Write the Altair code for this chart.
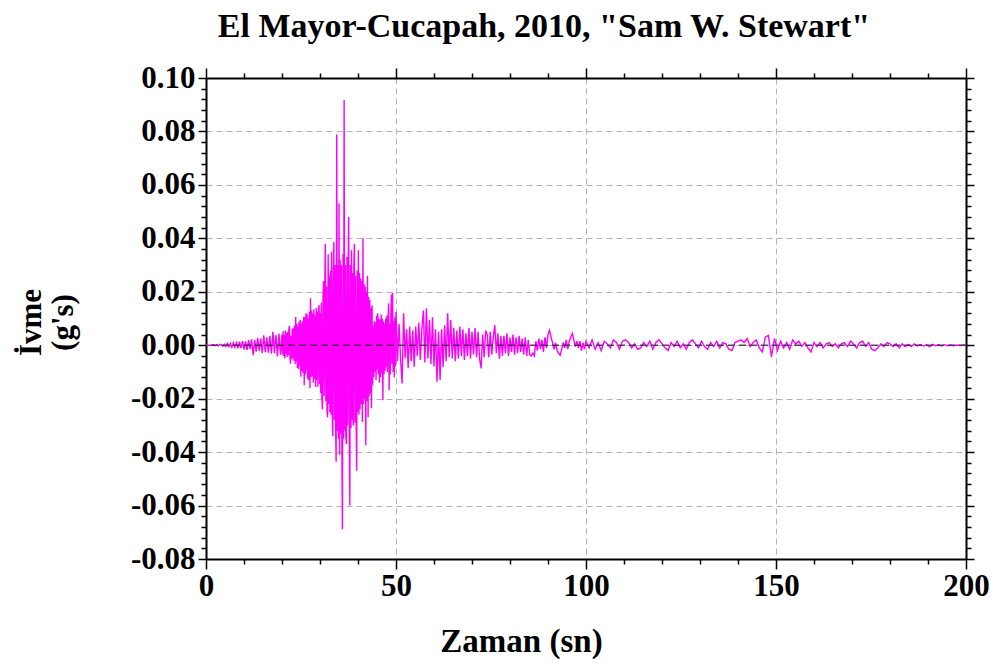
import altair as alt
import pandas as pd

# ---- data (acceleration in units of 0.001 g) ----
SEG_START = [0.0, 20.0, 50.0, 100.0]   # s
SEG_STEP = [0.4, 0.15, 0.4, 0.8]       # s (sampling of each segment)

ACC_A = [
    0.0, 0.1, -0.1, 0.1, -0.1, 0.2, -0.2, 0.2, -0.2, 0.3,
    0.3, -0.4, 0.4, -0.5, 0.6, -0.5, 0.7, -0.8, 0.9, -0.8,
    1.0, -1.2, 1.3, -1.1, 1.5, -1.6, 1.4, -1.8, 1.9, -1.5,
    2.2, -3.7, 2.0, -2.4, 2.8, -2.1, 2.5, -3.0, 3.7, -2.6,
    3.0, -2.8, 3.5, -3.2, 5.0, -3.0, 3.8, -4.2, 4.4, -3.5,
]
ACC_B = [
    4.0, -3.5, 5.2, -4.0, 3.8, -5.0, 5.5, -3.2, 4.6, -4.4, 5.0, -3.8, 6.0, 7.2, -4.5, -6.9, 3.5, -5.2, 6.1, -4.8,
    6.5, -5.8, 7.4, -7.0, 10.6, -6.0, 8.0, -8.5, 7.0, -9.0, 8.8, -7.5, 9.5, -11.8, 8.2, -9.6, 9.0, -10.5, 10.6, -15.0,
    10.5, -11.0, 12.0, -9.5, 11.5, -12.5, 10.0, -13.0, 12.5, -16.0, 17.6, -12.0, 13.0, -11.5, 12.0, -14.0, 13.5, -12.5, 11.0, -15.6,
    14.0, -13.0, 12.5, -15.5, 13.0, 15.0, -14.5, 12.0, -18.0, 16.0, -20.0, -24.0, 18.0, 24.0, -19.0, 20.0, 38.0, -21.0, 22.0, -24.5,
    -27.0, 34.0, -22.0, 26.0, -25.0, 28.0, -26.0, 35.0, -24.0, -34.0, 27.0, 38.6, -28.0, 30.0, -30.0, -43.6, 78.9, -32.0, 30.0, -35.0,
    53.0, -41.0, 32.0, -33.0, 30.0, -36.0, -68.9, 34.0, -35.0, 91.8, -32.0, 30.0, -34.0, -37.0, 33.0, -30.0, 28.0, 48.0, -33.0, -60.0,
    30.0, -31.0, 35.5, -28.0, 27.0, -30.0, 29.0, 38.0, -29.0, 26.0, -27.0, -47.0, 28.0, -25.0, 35.5, -26.0, 27.0, -24.0, 25.0, -22.0,
    24.0, -28.7, 40.0, -22.0, 23.0, -20.0, 22.0, -37.4, 20.0, -21.0, 26.0, -27.0, 18.0, -19.0, 17.0, -18.0, 14.0, -23.6, 15.0, -15.0,
    7.0, -12.0, 9.0, -10.0, 8.5, -13.0, 11.0, -9.0, 12.0, -11.0, 10.0, -14.0, 9.5, -12.0, 11.5, -10.5, 10.0, -20.6, 9.0, -11.0,
    8.0, -9.5, 10.0, -8.0, 11.0, -10.0, 9.0, 15.7, -16.8, 8.0, -11.0, 12.0, 19.0, -7.0, 19.6, -10.0, 9.0, -12.0, 10.5, -8.0,
]
ACC_C = [
    12.5, -6.0, 8.0, -5.0, -14.3, 12.0, -5.0, 6.0, -8.6, 7.0,
    -6.0, 5.5, -8.0, 7.0, -4.0, 8.5, -5.5, 6.0, 13.0, -6.5,
    13.8, -5.0, 9.5, -7.0, 10.5, -8.0, 6.0, -13.7, 5.0, -13.0,
    6.0, -8.1, 7.5, -6.0, 12.0, -4.5, 9.4, -5.0, 6.5, -6.0,
    5.5, -5.0, 7.0, -4.0, 6.0, -5.5, 4.5, -4.0, 6.5, -5.0,
    5.0, -3.5, 6.4, -4.5, 5.0, -5.0, -8.7, 4.0, -4.5, 5.5,
    4.0, -4.5, 5.0, -3.5, 3.0, 7.5, -3.0, 4.5, -5.0, 3.5,
    -4.0, 3.5, -3.0, 4.5, -4.0, 3.0, -2.5, 4.0, -3.5, 3.0,
    -3.0, 3.5, -2.5, 2.5, -3.5, 3.0, -4.0, 2.0, -3.5, -4.0,
    -3.0, -4.0, 1.5, -2.0, 2.5, -1.5, 2.0, -2.5, 3.0, -1.0,
    4.0, 5.6, 3.0, 1.0, -1.5, 1.0, -2.0, -3.0, -3.7, -1.5,
    1.0, -1.0, 2.0, -1.5, 1.5, 3.0, 4.4, 2.0, -0.5, 1.5,
    -1.0, 1.5, -2.0, 1.0, -1.5,
]
ACC_D = [
    1.5, -1.0, 2.0, -1.5, 1.0, -2.0, 1.5, 0.5, -1.0, 2.0,
    1.0, -1.5, 1.5, 2.0, 1.0, -1.0, 0.5, -1.5, -1.0, 1.0,
    -0.5, 1.5, -1.5, 1.0, 2.0, 0.5, -1.0, -2.0, 1.0, -0.5,
    1.5, -1.0, 0.5, -1.5, 1.0, 2.0, 0.5, -1.0, 1.5, -0.5,
    -1.5, 1.0, -0.5, 1.5, -1.0, 1.0, 0.5, -1.5, -2.0, 1.0,
    1.5, 2.0, 1.0, 2.5, -0.5, 1.0, 2.0, -1.0, -2.5, 3.0,
    3.7, -4.4, 2.5, -2.0, 1.5, -1.0, 1.0, -1.5, 2.0, 0.5,
    1.5, -0.5, 1.0, -1.0, -2.5, 1.0, -0.5, 1.0, -1.0, 0.5,
    1.0, -0.5, 0.5, -1.0, 0.5, 1.0, -0.5, 1.5, 0.5, -1.0,
    1.0, 1.5, -0.5, 1.0, -1.5, -2.0, -1.0, 0.5, -0.5, 1.0,
    0.5, -0.5, 0.5, -1.0, 0.5, -0.5, 0.3, -0.5, 0.5, -0.3,
    0.3, -0.3, 0.2, -0.5, 0.3, -0.2, 0.2, -0.3, 0.2, -0.2,
    0.1, -0.2, 0.1, -0.1, 0.0, 0.0,
]

X_MAJOR = [0, 50, 100, 150, 200]
X_MINOR = [10, 20, 30, 40, 60, 70, 80, 90, 110, 120, 130, 140, 160, 170, 180, 190]
Y_MAJOR = [-0.08, -0.06, -0.04, -0.02, 0.0, 0.02, 0.04, 0.06, 0.08, 0.10]
Y_MINOR = [-0.076, -0.072, -0.068, -0.064, -0.056, -0.052, -0.048, -0.044,
           -0.036, -0.032, -0.028, -0.024, -0.016, -0.012, -0.008, -0.004,
           0.004, 0.008, 0.012, 0.016, 0.024, 0.028, 0.032, 0.036,
           0.044, 0.048, 0.052, 0.056, 0.064, 0.068, 0.072, 0.076,
           0.084, 0.088, 0.092, 0.096]
ZERO = [0.0]

TITLE = 'El Mayor-Cucapah, 2010, "Sam W. Stewart"'
X_TITLE = "Zaman (sn)"
Y_TITLE = ["İvme", "(g's)"]

# ---- table ----
rows = []
for start, step, vals in zip(SEG_START, SEG_STEP, [ACC_A, ACC_B, ACC_C, ACC_D]):
    for i, v in enumerate(vals):
        rows.append({"t": round(start + i * step, 3), "a": v / 1000.0})
df = pd.DataFrame(rows)

FONT = "Liberation Serif"
XDOM = [0, 200]
YDOM = [-0.08, 0.10]
xs = alt.Scale(domain=XDOM, nice=False, zero=False)
ys = alt.Scale(domain=YDOM, nice=False, zero=False)

common = dict(domainColor="black", domainWidth=2, tickColor="black", tickWidth=1.5)

x_main = alt.Axis(values=X_MAJOR, orient="bottom", format="d", title=X_TITLE,
                  labelFont=FONT, labelFontWeight="bold", labelFontSize=31, labelColor="black",
                  labelPadding=2, labelFlush=False,
                  titleFont=FONT, titleFontWeight="bold", titleFontSize=33, titleColor="black",
                  titleX=315, titleY=66, titleBaseline="top",
                  tickSize=10, grid=True, gridDash=[6, 4], gridColor="#b4b4b4", gridWidth=1,
                  **common)
y_main = alt.Axis(values=Y_MAJOR, orient="left",
                  labelExpr="replace(format(datum.value, '.2f'), '\u2212', '-')",
                  title=Y_TITLE,
                  labelFont=FONT, labelFontWeight="bold", labelFontSize=31, labelColor="black",
                  labelPadding=3, labelFlush=False,
                  titleFont=FONT, titleFontWeight="bold", titleFontSize=31, titleColor="black",
                  titleAngle=270, titleX=-190, titleY=244, titleAlign="center", titleBaseline="top",
                  titleLineHeight=32,
                  tickSize=8, grid=True, gridDash=[6, 4], gridColor="#b4b4b4", gridWidth=1,
                  **common)

line = alt.Chart(df).mark_line(color="#ff00ff", strokeWidth=1.4).encode(
    x=alt.X("t:Q", scale=xs, axis=x_main),
    y=alt.Y("a:Q", scale=ys, axis=y_main),
)

def frame_layer(xaxis, yaxis):
    return alt.Chart(df).mark_line(opacity=0).encode(
        x=alt.X("t:Q", scale=xs, axis=xaxis),
        y=alt.Y("a:Q", scale=ys, axis=yaxis),
    )

blank = dict(labels=False, title=None, grid=False)
top_right_major = frame_layer(
    alt.Axis(values=X_MAJOR, orient="top", tickSize=10, **blank, **common),
    alt.Axis(values=Y_MAJOR, orient="right", tickSize=8, **blank, **common),
)
bl_minor = frame_layer(
    alt.Axis(values=X_MINOR, orient="bottom", tickSize=5, domain=False, **blank, **common),
    alt.Axis(values=Y_MINOR, orient="left", tickSize=5, domain=False, **blank, **common),
)
tr_minor = frame_layer(
    alt.Axis(values=X_MINOR, orient="top", tickSize=5, domain=False, **blank, **common),
    alt.Axis(values=Y_MINOR, orient="right", tickSize=5, domain=False, **blank, **common),
)

zero_rule = alt.Chart(pd.DataFrame({"a": ZERO})).mark_rule(
    color="#3c2a40", strokeDash=[7, 4], strokeWidth=1.4, opacity=0.85
).encode(y=alt.Y("a:Q", scale=ys, axis=None))

chart = alt.layer(line, top_right_major, bl_minor, tr_minor, zero_rule).resolve_axis(
    x="independent", y="independent"
).properties(
    width=760, height=481,
    autosize=alt.AutoSizeParams(type="none"),
    padding={"left": 198, "top": 70, "right": 27, "bottom": 103},
    title=alt.TitleParams(TITLE, font=FONT, fontSize=34, fontWeight="bold", color="black",
                          anchor="middle", dx=-42, offset=18),
).configure_view(stroke=None)

chart.save("out.html", embed_options={"renderer": "svg", "actions": False})
